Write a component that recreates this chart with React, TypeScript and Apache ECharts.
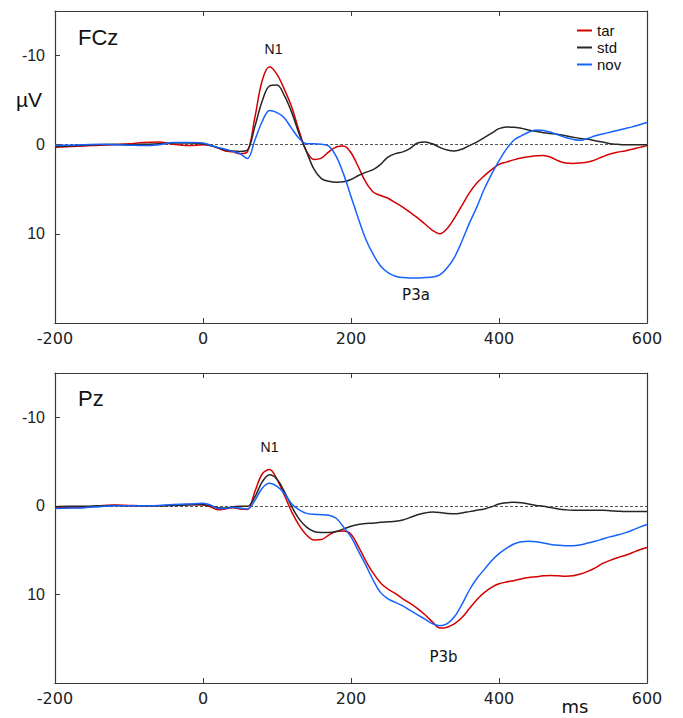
import React, { useEffect, useRef } from "react";
import * as echarts from "echarts";

const times = [
  -200, -180, -160, -140, -120, -100, -80, -60, -40, -20,
  0, 10, 20, 30, 40, 50, 60, 70, 80, 90,
  100, 110, 120, 130, 140, 150, 160, 170, 180, 190,
  200, 210, 220, 230, 240, 250, 260, 270, 280, 290,
  300, 310, 320, 330, 340, 350, 360, 370, 380, 390,
  400, 410, 420, 430, 440, 450, 460, 470, 480, 490,
  500, 510, 520, 530, 540, 550, 560, 570, 580, 590, 600,
];

// FCz
const fczTar = [
  0.3, 0.2, 0.15, 0.05, 0, -0.1, -0.25, -0.3, -0.05, 0.1,
  0, 0.1, 0.35, 0.7, 0.8, 1.0, 0.8, -3.0, -7.2, -8.75,
  -7.9, -6.2, -4.2, -1.5, 0.75, 1.65, 1.5, 0.8, 0.25, 0.15,
  0.9, 2.5, 4.2, 5.3, 5.7, 6.0, 6.5, 7.0, 7.6, 8.2,
  8.9, 9.6, 10.0, 9.4, 8.2, 6.8, 5.4, 4.3, 3.5, 2.8,
  2.2, 1.95, 1.7, 1.5, 1.35, 1.25, 1.2, 1.4, 1.8, 2.05,
  2.1, 2.05, 1.95, 1.7, 1.35, 1.05, 0.85, 0.7, 0.5, 0.3, 0.1,
];
const fczStd = [
  0.2, 0.15, 0.05, 0, -0.05, 0, -0.05, -0.1, -0.2, -0.2,
  -0.1, 0.1, 0.35, 0.6, 0.7, 0.75, 0.6, -2.0, -4.9, -6.6,
  -6.7, -5.5, -3.6, -1.2, 0.8, 2.75, 3.8, 4.1, 4.2, 4.15,
  3.9, 3.45, 3.1, 2.8, 2.2, 1.4, 1.0, 0.8, 0.4, -0.2,
  -0.3, -0.1, 0.3, 0.6, 0.7, 0.5, 0.1, -0.3, -0.8, -1.3,
  -1.8, -2.0, -1.95, -1.85, -1.65, -1.5, -1.35, -1.25, -1.15, -1.0,
  -0.85, -0.7, -0.6, -0.45, -0.3, -0.12, -0.05, 0, 0, 0, 0,
];
const fczNov = [
  0.1, 0.05, 0, -0.05, 0, 0.05, 0.1, 0, -0.25, -0.25,
  -0.2, 0.05, 0.3, 0.5, 0.75, 1.0, 1.55, -0.5, -2.6, -3.85,
  -3.6, -3.0, -1.8, -0.7, -0.1, -0.1, -0.05, 0.15, 1.3, 3.3,
  5.8, 8.3, 10.6, 12.3, 13.6, 14.35, 14.75, 14.9, 14.95, 14.95,
  14.9, 14.85, 14.6, 13.8, 12.6, 10.8, 8.8, 7.0, 5.0, 3.3,
  1.8, 0.5, -0.5, -1.0, -1.4, -1.65, -1.6, -1.4, -1.1, -0.8,
  -0.6, -0.5, -0.7, -1.0, -1.2, -1.4, -1.6, -1.8, -2.0, -2.25, -2.5,
];

// Pz
const pzTar = [
  0.2, 0.2, 0.15, 0, -0.1, -0.05, 0, 0, -0.1, -0.15,
  -0.1, 0.1, 0.45, 0.35, 0.2, 0.35, 0.4, -1.6, -3.6, -4.1,
  -3.0, -1.2, 0.7, 2.2, 3.3, 3.85, 3.8, 3.3, 2.9, 2.85,
  3.2, 4.6, 6.2, 7.6, 8.7, 9.4, 9.9, 10.5, 11.0, 11.6,
  12.3, 13.1, 13.8, 13.7, 13.3, 12.6, 11.6, 10.6, 9.8, 9.2,
  8.8, 8.6, 8.45, 8.25, 8.1, 8.0, 7.9, 7.85, 7.9, 7.95,
  7.9, 7.7, 7.4, 7.0, 6.5, 6.15, 5.85, 5.6, 5.3, 4.95, 4.7,
];
const pzStd = [
  0.1, 0.05, 0.05, 0, -0.05, 0, 0, 0, -0.05, -0.1,
  -0.15, 0, 0.2, 0.25, 0.1, 0.05, 0.05, -1.0, -2.7, -3.5,
  -3.0, -1.6, 0.1, 1.5, 2.4, 2.9, 3.0, 3.0, 2.9, 2.6,
  2.3, 2.1, 2.0, 1.95, 1.85, 1.8, 1.75, 1.6, 1.3, 1.0,
  0.8, 0.7, 0.75, 0.85, 0.9, 0.8, 0.65, 0.5, 0.35, 0.1,
  -0.2, -0.35, -0.4, -0.35, -0.2, -0.05, 0.05, 0.2, 0.35, 0.45,
  0.5, 0.5, 0.5, 0.5, 0.5, 0.55, 0.6, 0.65, 0.65, 0.65, 0.65,
];
const pzNov = [
  0.3, 0.25, 0.2, 0.1, 0, 0, 0, -0.05, -0.15, -0.2,
  -0.3, -0.1, 0.3, 0.3, 0.15, 0.25, 0.35, -0.6, -2.0, -2.55,
  -2.2, -1.4, -0.2, 0.45, 0.85, 0.95, 1.0, 1.05, 1.4, 2.4,
  3.5, 5.1, 6.7, 8.4, 9.8, 10.5, 10.9, 11.3, 11.8, 12.3,
  12.8, 13.3, 13.55, 13.3, 12.5, 11.1, 9.5, 8.2, 7.2, 6.2,
  5.4, 4.8, 4.3, 4.05, 4.0, 4.05, 4.2, 4.35, 4.45, 4.5,
  4.5, 4.4, 4.2, 4.0, 3.75, 3.5, 3.3, 3.05, 2.75, 2.4, 2.1,
];

const conditionNames = ["tar", "std", "nov"];
const conditionColors = ["#d40000", "#262626", "#1662ff"];
const yTickValues = [-10, 0, 10];
const panelData = [
  [fczTar, fczStd, fczNov],
  [pzTar, pzStd, pzNov],
];

export default function App() {
  const ref = useRef<HTMLDivElement>(null);

  useEffect(() => {
    const chart = echarts.init(ref.current as HTMLDivElement, null, { renderer: "svg" });
    const axisColor = "#3a3a3a";
    const grids = [
      { left: 55, top: 11, width: 592, height: 312 },
      { left: 55, top: 373, width: 592, height: 310 },
    ];
    const xAxis: any[] = [];
    const yAxis: any[] = [];
    grids.forEach((_, i) => {
      xAxis.push({
        type: "value", gridIndex: i, position: "bottom", min: -200, max: 600, interval: 200,
        axisLine: { show: true, onZero: false, lineStyle: { color: axisColor, width: 1.2 } },
        axisTick: { show: true, inside: true, length: 5, lineStyle: { color: axisColor, width: 1 } },
        axisLabel: { margin: 7, fontSize: 16, fontFamily: "DejaVu Sans", color: "#222" },
        splitLine: { show: false },
      });
      xAxis.push({
        type: "value", gridIndex: i, position: "top", min: -200, max: 600, interval: 200,
        axisLine: { show: true, onZero: false, lineStyle: { color: axisColor, width: 1.2 } },
        axisTick: { show: true, inside: true, length: 5, lineStyle: { color: axisColor, width: 1 } },
        axisLabel: { show: false },
        splitLine: { show: false },
      });
      yAxis.push({
        type: "value", gridIndex: i, position: "left", inverse: true, min: -15, max: 20,
        axisLine: { show: true, onZero: false, lineStyle: { color: axisColor, width: 1.2 } },
        axisTick: { show: true, inside: true, length: 5, customValues: yTickValues, lineStyle: { color: axisColor, width: 1 } },
        axisLabel: { margin: 10, customValues: yTickValues, fontSize: 16, fontFamily: "Liberation Sans", color: "#222" },
        splitLine: { show: false },
      });
      yAxis.push({
        type: "value", gridIndex: i, position: "right", inverse: true, min: -15, max: 20,
        axisLine: { show: true, onZero: false, lineStyle: { color: axisColor, width: 1.2 } },
        axisTick: { show: false },
        axisLabel: { show: false },
        splitLine: { show: false },
      });
    });

    const series: any[] = [];
    panelData.forEach((set, p) => {
      set.forEach((vals, k) => {
        series.push({
          type: "line",
          name: conditionNames[k],
          xAxisIndex: 2 * p,
          yAxisIndex: 2 * p,
          data: times.map((t, j) => [t, vals[j]]),
          smooth: 0.35,
          symbol: "none",
          showSymbol: false,
          lineStyle: { color: conditionColors[k], width: 1.5 },
          itemStyle: { color: conditionColors[k] },
          z: 3,
          markLine: k === 0 ? {
            silent: true,
            symbol: ["none", "none"],
            label: { show: false },
            lineStyle: { color: "#555", type: [3, 2], width: 1 },
            data: [{ yAxis: 0 }],
            z: 1,
          } : undefined,
        });
      });
    });

    const txt = (text: string, x: number, y: number, size: number, family: string, align = "center") => ({
      type: "text",
      x, y,
      style: { text, fontSize: size, fontFamily: family, fill: "#111", align, verticalAlign: "middle" },
      z: 10,
    });

    chart.setOption({
      animation: false,
      backgroundColor: "#ffffff",
      grid: grids,
      xAxis,
      yAxis,
      series,
      legend: {
        data: conditionNames,
        orient: "vertical",
        left: 577,
        top: 23,
        padding: 0,
        itemWidth: 15,
        itemHeight: 2,
        itemGap: 2,
        icon: "rect",
        textStyle: { fontSize: 15, fontFamily: "Liberation Sans", color: "#111", lineHeight: 15 },
      },
      graphic: [
        txt("FCz", 78, 37, 22, "Liberation Sans", "left"),
        txt("Pz", 78, 398, 22, "Liberation Sans", "left"),
        txt("N1", 273.5, 48.5, 14, "Liberation Sans"),
        txt("N1", 269.5, 447, 14, "Liberation Sans"),
        txt("P3a", 416, 294.5, 15, "DejaVu Sans"),
        txt("P3b", 443.5, 657, 15, "DejaVu Sans"),
        txt("µV", 29, 99, 21, "Liberation Sans"),
        txt("ms", 575, 706, 18, "DejaVu Sans"),
      ],
    });
    return () => chart.dispose();
  }, []);

  return (
    <div
      ref={ref}
      style={{ position: "absolute", left: 0, top: 0, width: 683, height: 718, background: "#fff" }}
    />
  );
}
